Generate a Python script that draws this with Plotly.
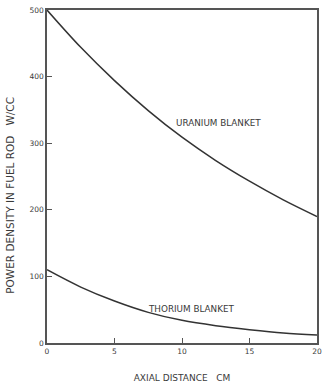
import plotly.graph_objects as go

distance_cm = [0, 2.5, 5, 7.5, 10, 12.5, 15, 17.5, 20]
uranium_blanket = [500, 444, 394, 349, 309, 274, 243, 215, 190]
thorium_blanket = [110, 84, 63, 46, 34, 26, 20, 15, 12]

x_ticks = [0, 5, 10, 15, 20]
y_ticks = [0, 100, 200, 300, 400, 500]

ink = "#3a3a3a"
fam = "DejaVu Sans, Arial"
font = dict(family=fam, size=8, color=ink)

fig = go.Figure()
fig.add_trace(go.Scatter(x=distance_cm, y=uranium_blanket, mode="lines",
                         line=dict(color="#333333", width=1.5, shape="spline")))
fig.add_trace(go.Scatter(x=distance_cm, y=thorium_blanket, mode="lines",
                         line=dict(color="#333333", width=1.5, shape="spline")))

fig.add_annotation(x=12.7, y=330, text="URANIUM BLANKET", showarrow=False,
                   font=dict(family=fam, size=8.8, color=ink))
fig.add_annotation(x=10.7, y=51, text="THORIUM BLANKET", showarrow=False,
                   font=dict(family=fam, size=8.8, color=ink))

# y-axis title placed as annotation (centered slightly below plot middle, as in reference)
fig.add_annotation(xref="paper", x=-0.137, xanchor="center", yref="y", y=221,
                   text="POWER DENSITY IN FUEL ROD   W/CC", textangle=-90,
                   showarrow=False, font=dict(family=fam, size=10.5, color=ink))

fig.update_layout(
    width=322, height=386,
    margin=dict(l=47, r=5, t=10, b=43),
    paper_bgcolor="white", plot_bgcolor="white",
    showlegend=False,
    font=font,
)
fig.update_xaxes(range=[0, 20], tickvals=x_ticks, showgrid=False, zeroline=False,
                 showline=True, linecolor="#555555", linewidth=1.5, mirror=True,
                 ticks="inside", ticklen=5, tickcolor="#555555", automargin=False,
                 tickfont=dict(family=fam, size=7.5, color=ink),
                 title=dict(text="AXIAL DISTANCE   CM", font=dict(family=fam, size=9, color=ink),
                            standoff=20))
fig.update_yaxes(range=[0, 500], tickvals=y_ticks, showgrid=False, zeroline=False,
                 showline=True, linecolor="#555555", linewidth=1.5, mirror=True,
                 ticks="inside", ticklen=5, tickcolor="#555555", automargin=False,
                 tickfont=dict(family=fam, size=7.5, color=ink))

fig.write_html("out.html", config={"displayModeBar": False},
               post_script="document.body.style.margin='0';")
